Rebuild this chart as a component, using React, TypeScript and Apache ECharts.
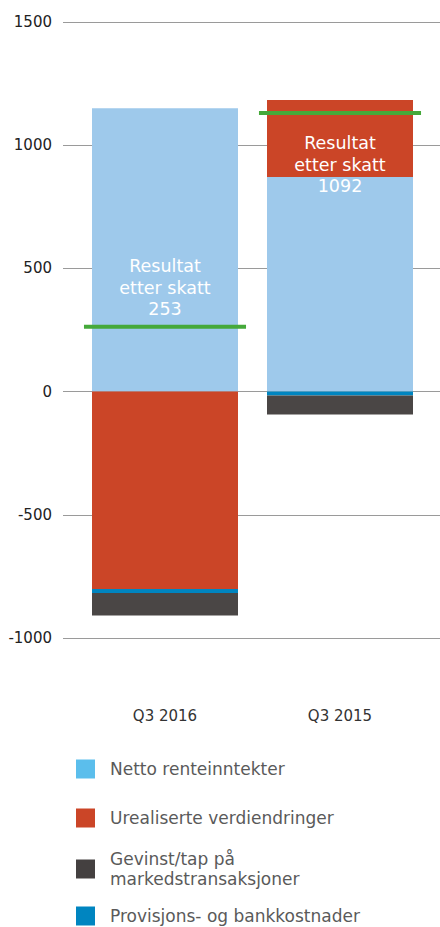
import React, { useEffect, useRef } from "react";
import * as echarts from "echarts";

const categories = ["Q3 2016", "Q3 2015"];
const netto = [1150, 871];
const urealiserte = [-801, 312];
const provisjon = [-16, -16];
const gevinst = [-92, -77];
const resultat = [253, 1092];
const resultatLine = [263, 1131];
const resultatLabelLevel = [421, 920];
const yMin = -1000;
const yMax = 1500;
const yInterval = 500;

const NAMES = {
  netto: "Netto renteinntekter",
  ureal: "Urealiserte verdiendringer",
  gevinst: "Gevinst/tap på markedstransaksjoner",
  prov: "Provisjons- og bankkostnader",
};

const FONT = "'DejaVu Sans', sans-serif";

export default function App() {
  const ref = useRef<HTMLDivElement>(null);
  useEffect(() => {
    if (!ref.current) return;
    const chart = echarts.init(ref.current, undefined, { renderer: "svg" });
    const gridTop = 22;
    const gridHeight = 616;
    const legendBase = {
      orient: "vertical",
      left: 76,
      padding: 0,
      icon: "rect",
      itemWidth: 19,
      itemHeight: 19,
      selectedMode: false,
      textStyle: {
        fontFamily: FONT,
        fontSize: 17,
        color: "#5a5a5a",
        lineHeight: 20,
        padding: [0, 0, 0, 10],
      },
      formatter: (n: string) =>
        n === NAMES.gevinst ? "Gevinst/tap på\nmarkedstransaksjoner" : n,
    };
    chart.setOption({
      animation: false,
      grid: [
        { left: 63, right: 0, top: gridTop, height: gridHeight },
        { left: 77.5, right: 12.5, top: gridTop, height: gridHeight },
      ],
      xAxis: [
        { type: "value", gridIndex: 0, show: false, min: 0, max: 1 },
        {
          type: "category",
          gridIndex: 1,
          data: categories,
          axisLine: { show: false },
          axisTick: { show: false },
          axisLabel: {
            margin: 70,
            fontFamily: FONT,
            fontSize: 15,
            color: "#333",
          },
        },
      ],
      yAxis: [
        {
          type: "value",
          gridIndex: 0,
          min: yMin,
          max: yMax,
          interval: yInterval,
          axisLine: { show: false },
          axisTick: { show: false },
          axisLabel: {
            margin: 11,
            fontFamily: FONT,
            fontSize: 15,
            color: "#222",
            formatter: (v: number) => String(v),
          },
          splitLine: { lineStyle: { color: "#9a9a9a", width: 1 } },
        },
        {
          type: "value",
          gridIndex: 1,
          min: yMin,
          max: yMax,
          interval: yInterval,
          show: false,
          splitLine: { show: false },
        },
      ],
      legend: [
        { ...legendBase, top: 759, data: [{ name: NAMES.netto, itemStyle: { color: "#5BBEEC" } }] },
        { ...legendBase, top: 808, data: [{ name: NAMES.ureal, itemStyle: { color: "#CB4527" } }] },
        { ...legendBase, top: 849, data: [{ name: NAMES.gevinst, itemStyle: { color: "#444040" } }] },
        { ...legendBase, top: 906, data: [{ name: NAMES.prov, itemStyle: { color: "#0085C0" } }] },
      ],
      series: [
        {
          name: NAMES.netto,
          type: "bar",
          stack: "total",
          xAxisIndex: 1,
          yAxisIndex: 1,
          barWidth: 146,
          data: netto,
          itemStyle: { color: "#9EC9EB" },
        },
        {
          name: NAMES.ureal,
          type: "bar",
          stack: "total",
          xAxisIndex: 1,
          yAxisIndex: 1,
          barWidth: 146,
          data: urealiserte,
          itemStyle: { color: "#CB4527" },
        },
        {
          name: NAMES.prov,
          type: "bar",
          stack: "total",
          xAxisIndex: 1,
          yAxisIndex: 1,
          barWidth: 146,
          data: provisjon,
          itemStyle: { color: "#0085C0" },
        },
        {
          name: NAMES.gevinst,
          type: "bar",
          stack: "total",
          xAxisIndex: 1,
          yAxisIndex: 1,
          barWidth: 146,
          data: gevinst,
          itemStyle: { color: "#4A4645" },
        },
        {
          name: "resultatLine",
          type: "custom",
          xAxisIndex: 1,
          yAxisIndex: 1,
          z: 10,
          data: categories.map((_, i) => [i, resultatLine[i]]),
          renderItem: (params: any, api: any) => {
            const c = api.coord([api.value(0), api.value(1)]);
            const w = api.size([1, 0])[0];
            const half = w * 0.463;
            return {
              type: "line",
              shape: { x1: c[0] - half, y1: c[1], x2: c[0] + half, y2: c[1] },
              style: { stroke: "#45A93A", lineWidth: 4 },
            };
          },
        },
        {
          name: "resultatLabel",
          type: "custom",
          xAxisIndex: 1,
          yAxisIndex: 1,
          z: 11,
          data: categories.map((_, i) => [i, resultatLabelLevel[i], resultat[i]]),
          renderItem: (params: any, api: any) => {
            const c = api.coord([api.value(0), api.value(1)]);
            return {
              type: "text",
              x: c[0],
              y: c[1],
              style: {
                text: "Resultat\netter skatt\n" + api.value(2),
                fill: "#ffffff",
                fontFamily: FONT,
                fontSize: 17.5,
                lineHeight: 21.5,
                align: "center",
                verticalAlign: "middle",
              },
            };
          },
        },
      ],
    });
    return () => chart.dispose();
  }, []);
  return (
    <div
      ref={ref}
      style={{ position: "absolute", left: 0, top: 0, width: 440, height: 927 }}
    />
  );
}
